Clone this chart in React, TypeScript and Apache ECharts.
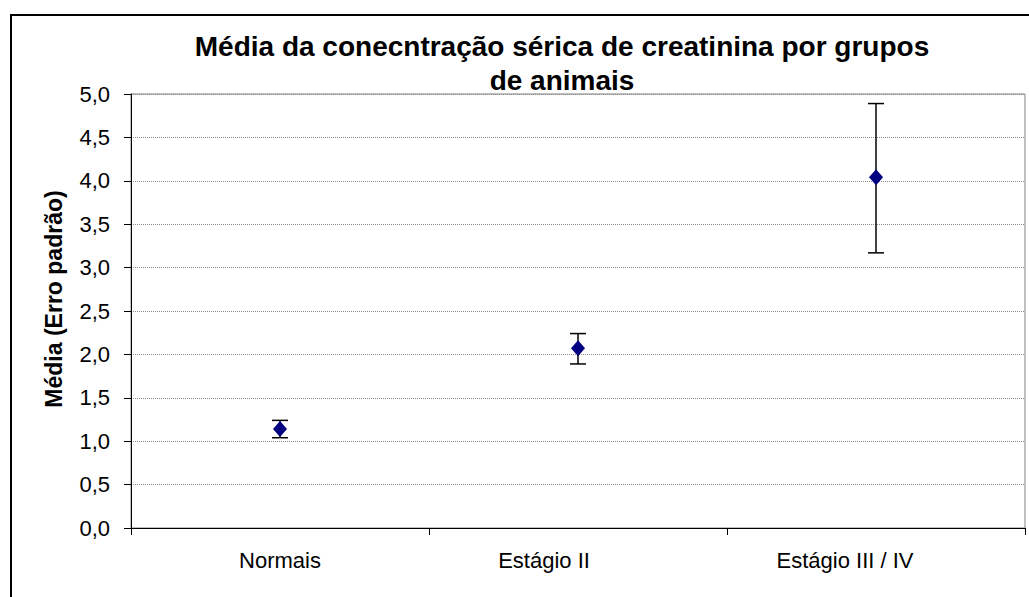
import React, { useEffect, useRef } from "react";
import * as echarts from "echarts";

const categories = ["Normais", "Estágio II", "Estágio III / IV"];
const means = [1.14, 2.07, 4.04];
const lowerBounds = [1.04, 1.89, 3.17];
const upperBounds = [1.24, 2.24, 4.89];
const yTicks = { min: 0, max: 5, interval: 0.5 };
const titleText = "Média da conecntração sérica de creatinina por grupos\nde animais";
const yAxisName = "Média (Erro padrão)";

export default function App() {
  const ref = useRef<HTMLDivElement>(null);
  useEffect(() => {
    if (!ref.current) return;
    const chart = echarts.init(ref.current, null, { renderer: "svg" });
    const font = "Arial, 'Liberation Sans', sans-serif";
    const labelShift = [0, 68, 62];
    const tickFont = 22;
    const option: any = {
      animation: false,
      backgroundColor: "#ffffff",
      title: {
        text: titleText,
        left: 557,
        textAlign: "center",
        top: 24,
        textStyle: {
          fontFamily: font,
          fontWeight: "bold",
          fontSize: 28,
          lineHeight: 34,
          color: "#000",
        },
      },
      graphic: [
        {
          type: "rect",
          shape: { x: 11, y: 15, width: 1040, height: 620 },
          style: { fill: "none", stroke: "#000", lineWidth: 2 },
          silent: true,
        },
      ],
      grid: {
        left: 131,
        top: 94,
        right: 4,
        bottom: 69,
        show: true,
        borderColor: "#808080",
        borderWidth: 1,
        backgroundColor: "transparent",
      },
      xAxis: {
        type: "category",
        data: categories,
        boundaryGap: true,
        axisLine: { lineStyle: { color: "#000", width: 1 } },
        axisTick: { show: true, length: 7, lineStyle: { color: "#000" } },
        axisLabel: {
          margin: 21,
          fontFamily: font,
          fontSize: tickFont,
          color: "#000",
          formatter: (v: string, i: number) => `{l${i}|${v}}`,
          rich: {
            l0: { fontFamily: font, fontSize: tickFont, color: "#000", padding: [0, labelShift[0], 0, 0] },
            l1: { fontFamily: font, fontSize: tickFont, color: "#000", padding: [0, labelShift[1], 0, 0] },
            l2: { fontFamily: font, fontSize: tickFont, color: "#000", padding: [0, labelShift[2], 0, 0] },
          },
        },
        splitLine: { show: false },
      },
      yAxis: {
        type: "value",
        min: yTicks.min,
        max: yTicks.max,
        interval: yTicks.interval,
        name: yAxisName,
        nameLocation: "middle",
        nameGap: 66,
        nameRotate: 90,
        nameTextStyle: {
          fontFamily: font,
          fontWeight: "bold",
          fontSize: 23,
          color: "#000",
          padding: [0, 0, 0, 24],
        },
        axisLine: { show: true, lineStyle: { color: "#000", width: 1 } },
        axisTick: { show: true, length: 7, lineStyle: { color: "#000" } },
        axisLabel: {
          margin: 21,
          fontFamily: font,
          fontSize: tickFont,
          color: "#000",
          formatter: (v: number) => v.toFixed(1).replace(".", ","),
        },
        splitLine: { show: true, lineStyle: { color: "#8c8c8c", type: "dotted", width: 1 } },
      },
      series: [
        {
          type: "custom",
          name: "erro",
          data: categories.map((_, i) => [i, lowerBounds[i], upperBounds[i]]),
          encode: { x: 0, y: [1, 2] },
          z: 2,
          renderItem: (params: any, api: any) => {
            const x = api.value(0);
            const lo = api.coord([x, api.value(1)]);
            const hi = api.coord([x, api.value(2)]);
            const half = 8;
            const st = { stroke: "#000", lineWidth: 1.5 };
            return {
              type: "group",
              children: [
                { type: "line", shape: { x1: lo[0], y1: lo[1], x2: hi[0], y2: hi[1] }, style: st },
                { type: "line", shape: { x1: lo[0] - half, y1: lo[1], x2: lo[0] + half, y2: lo[1] }, style: st },
                { type: "line", shape: { x1: hi[0] - half, y1: hi[1], x2: hi[0] + half, y2: hi[1] }, style: st },
              ],
            };
          },
        },
        {
          type: "scatter",
          name: "média",
          data: means,
          symbol: "diamond",
          symbolSize: [14, 16],
          itemStyle: { color: "#000080", opacity: 1 },
          z: 3,
        },
      ],
    };
    chart.setOption(option);
    return () => chart.dispose();
  }, []);
  return (
    <div
      ref={ref}
      style={{ position: "fixed", left: 0, top: 0, width: 1029, height: 597 }}
    />
  );
}
